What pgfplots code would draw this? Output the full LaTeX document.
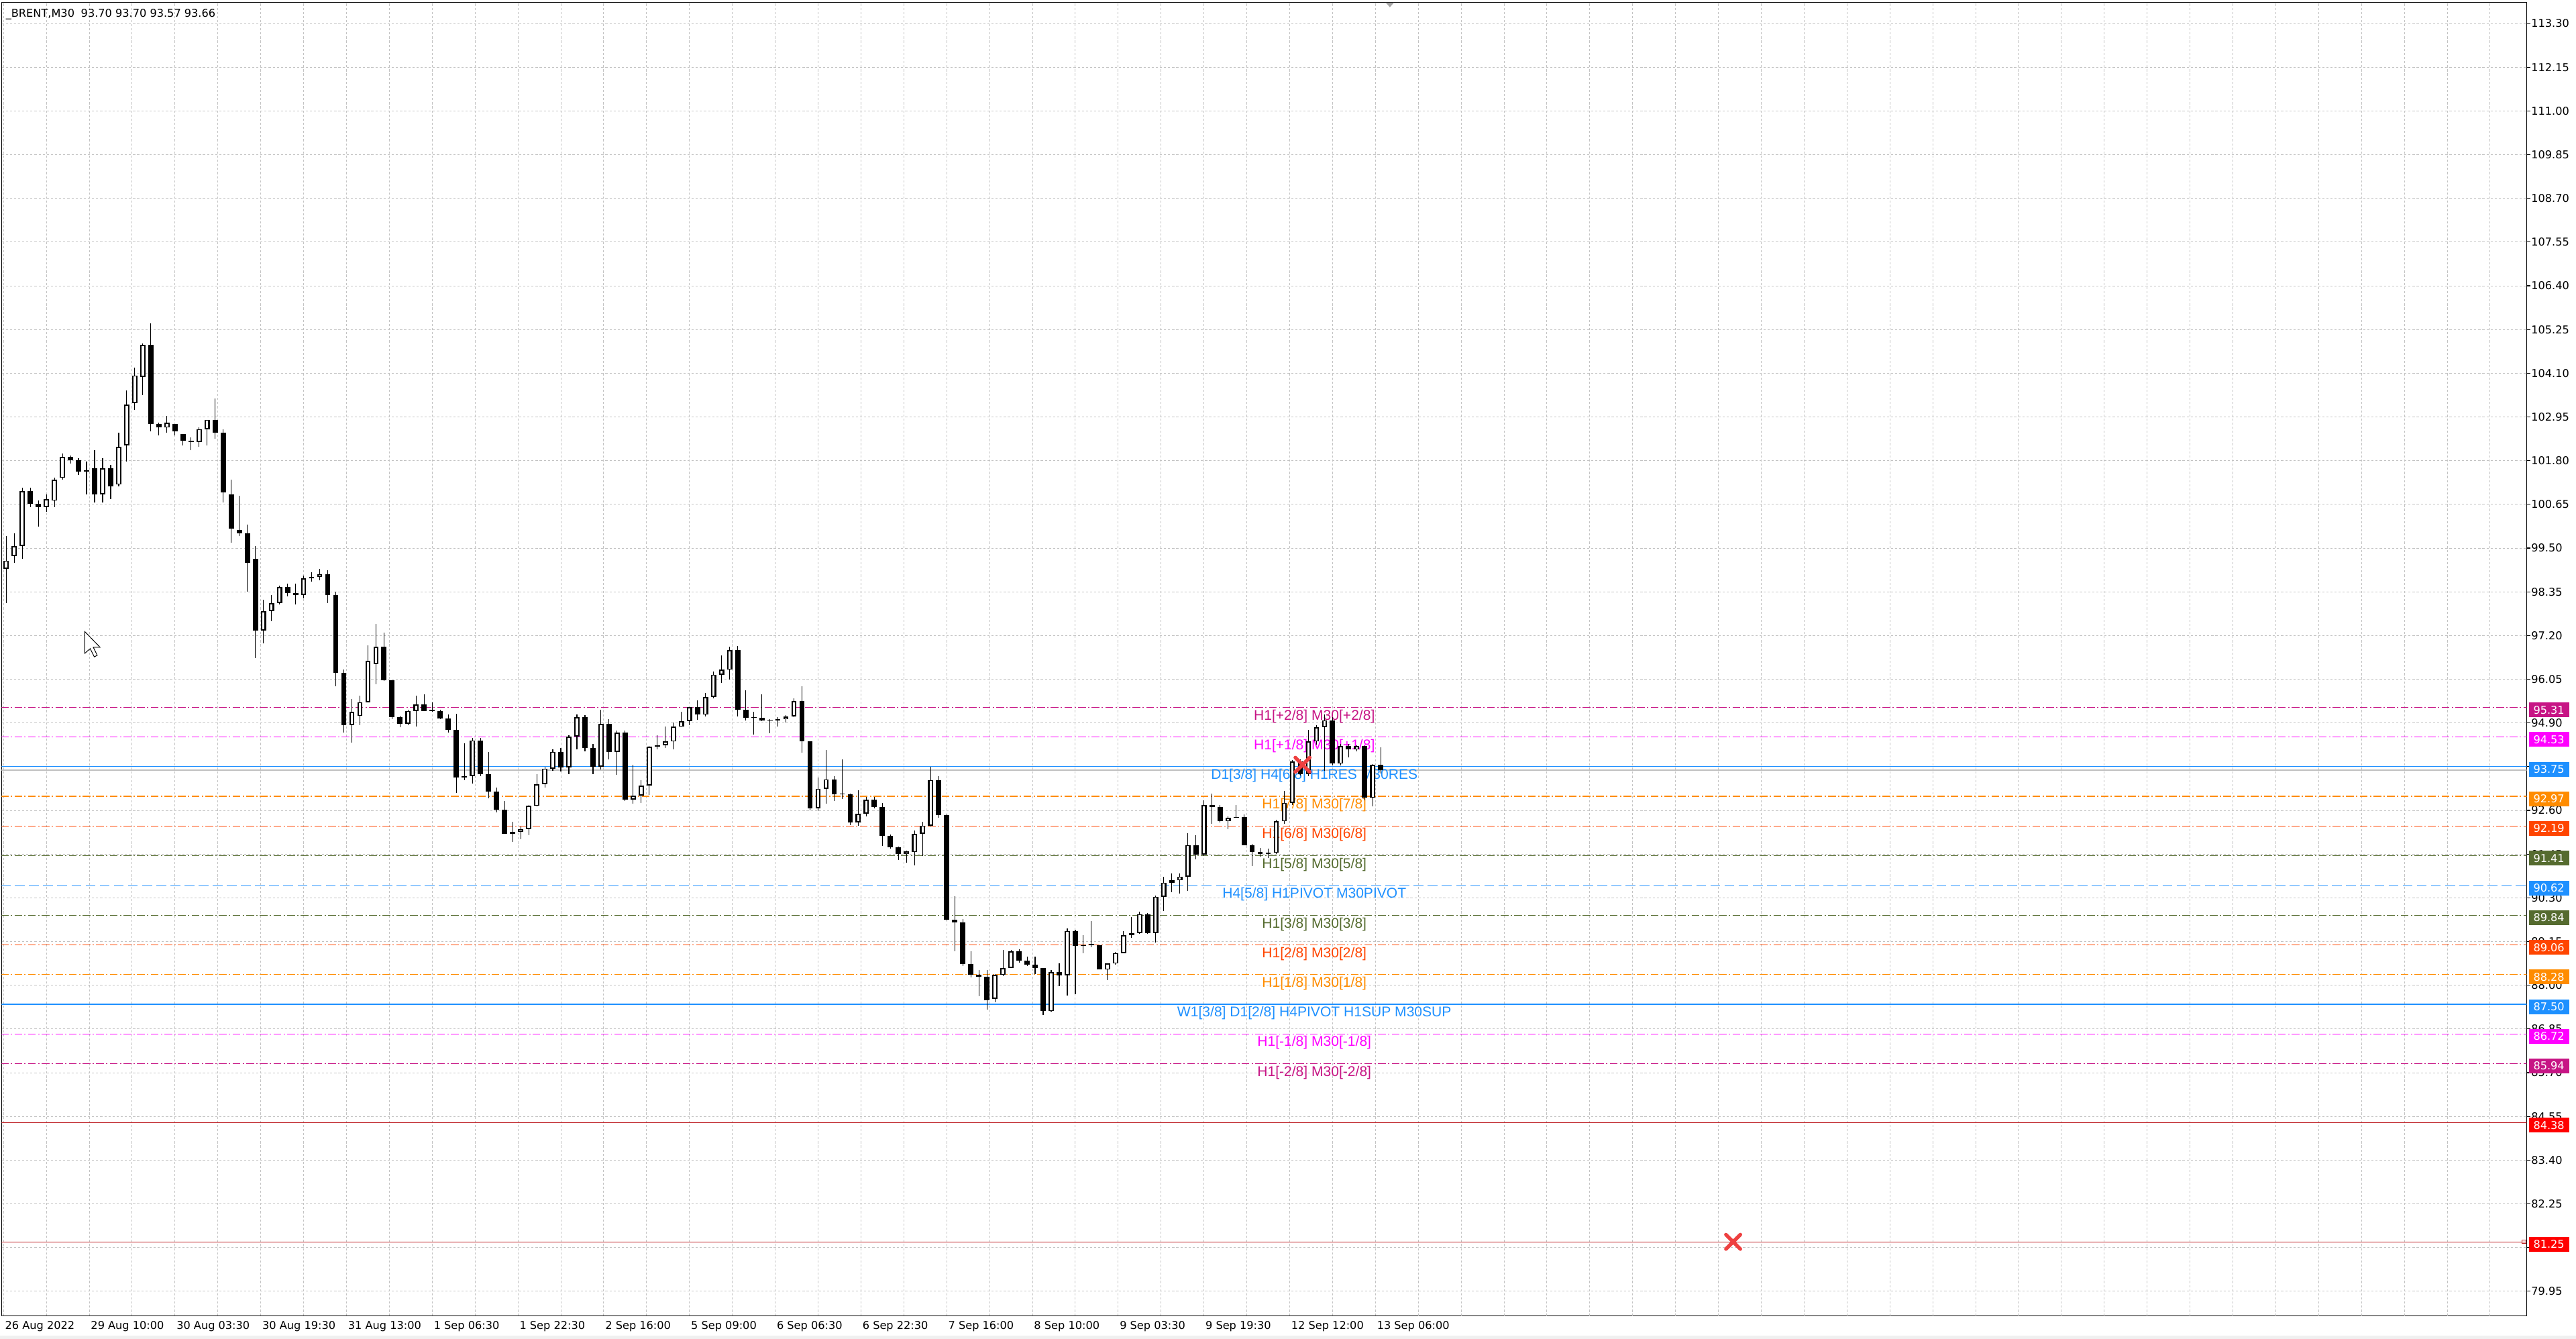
\documentclass[border=0pt]{standalone}
\usepackage{fontspec}
\setmainfont{DejaVu Sans}
\newfontfamily\lvlfamily{Liberation Sans}
\usepackage{pgfplots}
\usepackage{pgfplotstable}
\pgfplotsset{compat=1.18}

\definecolor{vred}{RGB}{199,21,133}
\definecolor{mag}{RGB}{255,0,255}
\definecolor{dblue}{RGB}{30,144,255}
\definecolor{dorange}{RGB}{255,140,0}
\definecolor{ored}{RGB}{255,69,0}
\definecolor{olivec}{RGB}{85,107,47}
\definecolor{lred}{RGB}{190,30,35}
\definecolor{bred}{RGB}{255,0,0}
\definecolor{gridc}{RGB}{195,195,195}
\definecolor{xred}{RGB}{238,64,64}
\definecolor{bidc}{RGB}{192,192,192}

\newcommand\tf{\fontsize{6.6}{7.5}\selectfont}
\newcommand\lf{\lvlfamily\fontsize{8.6}{10}\selectfont}

\pgfplotstableread{
x o h l c
1 98.95 99.81 98.05 99.17
4 99.29 99.89 99.12 99.55
7 99.55 101.09 99.21 101.00
10 101.00 101.09 100.58 100.66
13 100.66 100.75 100.06 100.58
16 100.58 100.92 100.45 100.79
19 100.75 101.35 100.58 101.30
22 101.35 101.99 101.30 101.90
25 101.90 101.94 101.73 101.82
28 101.82 101.86 101.43 101.52
31 101.52 101.77 100.92 101.52
34 101.60 102.07 100.70 100.92
37 100.92 101.86 100.70 101.60
40 101.60 101.69 100.79 101.13
43 101.17 102.54 101.13 102.16
46 102.20 103.65 101.77 103.27
49 103.31 104.25 103.14 104.04
52 104.00 104.89 103.52 104.85
55 104.85 105.41 102.58 102.76
58 102.76 102.80 102.46 102.67
61 102.67 102.97 102.54 102.80
64 102.76 102.76 102.46 102.58
67 102.50 102.50 102.20 102.33
70 102.33 102.41 102.07 102.29
73 102.29 102.67 102.16 102.63
76 102.63 102.88 102.20 102.88
79 102.88 103.44 102.37 102.54
82 102.54 102.63 100.70 100.96
85 100.92 101.30 99.64 100.02
88 99.98 100.88 99.81 99.89
91 99.89 100.11 98.35 99.12
94 99.21 99.55 96.60 97.33
97 97.33 98.14 96.99 97.84
100 97.84 98.27 97.58 98.05
103 98.05 98.52 98.01 98.48
106 98.48 98.57 98.23 98.31
109 98.31 98.57 98.01 98.27
112 98.27 98.78 98.18 98.70
115 98.70 98.87 98.61 98.74
118 98.74 98.95 98.65 98.82
121 98.82 98.91 98.05 98.27
124 98.27 98.35 95.87 96.22
127 96.22 96.30 94.64 94.85
130 94.85 95.53 94.38 95.19
133 95.08 95.62 94.85 95.45
136 95.45 96.94 95.45 96.53
139 96.45 97.51 95.92 96.90
142 96.90 97.27 96.00 96.03
145 96.03 96.03 95.00 95.05
148 95.05 95.08 94.78 94.88
151 94.88 95.25 94.84 95.22
154 95.22 95.62 94.81 95.38
157 95.38 95.66 95.22 95.22
160 95.22 95.45 95.20 95.25
163 95.22 95.25 95.00 95.01
166 95.01 95.12 94.65 94.71
169 94.71 95.15 93.06 93.46
172 93.46 94.37 93.40 93.50
175 93.50 94.51 93.30 94.44
178 94.44 94.50 93.50 93.56
181 93.56 94.14 92.92 93.09
184 93.09 93.20 92.55 92.62
187 92.62 92.85 91.98 91.98
190 91.98 92.30 91.77 92.04
193 92.04 92.18 91.85 92.11
196 92.11 92.75 91.95 92.72
199 92.72 93.56 92.70 93.29
202 93.29 93.75 93.20 93.70
205 93.70 94.20 93.65 94.14
208 94.14 94.24 93.62 93.73
211 93.73 94.58 93.55 94.54
214 94.54 95.12 94.20 95.05
217 95.05 95.10 94.15 94.24
220 94.24 94.35 93.55 93.75
223 93.75 95.25 93.68 94.88
226 94.88 95.00 93.95 94.14
229 94.14 94.70 93.53 94.64
232 94.64 94.70 92.85 92.89
235 92.89 93.80 92.78 92.99
238 92.99 93.40 92.80 93.25
241 93.25 94.30 93.00 94.27
244 94.27 94.58 94.20 94.31
247 94.31 94.80 94.25 94.41
250 94.41 94.92 94.20 94.80
253 94.80 95.20 94.80 94.95
256 94.95 95.32 94.84 95.32
259 95.32 95.50 94.98 95.12
262 95.12 95.68 95.07 95.58
265 95.58 96.25 95.55 96.17
268 96.17 96.68 95.95 96.30
271 96.30 96.90 96.05 96.82
274 96.82 96.93 95.07 95.25
277 95.25 95.76 94.96 95.03
280 95.03 95.20 94.59 95.03
283 95.03 95.65 94.95 94.96
286 94.96 95.00 94.63 94.96
289 94.96 95.05 94.80 95.00
292 95.00 95.10 94.92 95.07
295 95.07 95.55 95.05 95.47
298 95.47 95.87 94.12 94.41
301 94.41 94.41 92.60 92.66
304 92.66 93.46 92.58 93.17
307 93.17 94.19 92.77 93.42
310 93.42 93.50 92.84 93.02
313 93.02 93.94 92.90 93.02
316 93.02 93.05 92.22 92.29
319 92.29 93.13 92.20 92.51
322 92.51 92.95 92.45 92.88
325 92.88 92.95 92.65 92.69
328 92.69 92.80 91.67 91.93
331 91.93 91.96 91.60 91.63
334 91.63 91.65 91.30 91.45
337 91.45 91.55 91.23 91.52
340 91.50 92.07 91.16 91.98
343 91.98 92.30 91.40 92.20
346 92.20 93.75 92.18 93.40
349 93.40 93.50 92.40 92.47
352 92.47 92.50 89.70 89.73
355 89.73 90.35 88.89 89.66
358 89.66 89.75 88.50 88.56
361 88.56 88.90 88.20 88.27
364 88.27 88.40 87.72 88.23
367 88.23 88.40 87.36 87.60
370 87.65 88.30 87.55 88.27
373 88.27 88.93 88.25 88.45
376 88.45 88.93 88.45 88.89
379 88.89 88.95 88.60 88.64
382 88.64 88.75 88.50 88.55
385 88.55 88.75 88.30 88.45
388 88.45 88.45 87.21 87.32
391 87.32 88.40 87.30 88.35
394 88.35 88.57 87.98 88.26
397 88.26 89.50 87.73 89.43
400 89.43 89.46 87.76 89.03
403 89.03 89.31 88.85 89.06
406 89.06 89.68 89.00 89.06
409 89.06 89.06 88.41 88.41
412 88.41 88.57 88.13 88.57
415 88.57 88.87 88.55 88.85
418 88.85 89.43 88.85 89.31
421 89.31 89.80 89.25 89.37
424 89.37 89.93 89.35 89.87
427 89.87 89.90 89.35 89.37
430 89.37 90.36 89.12 90.33
433 90.33 90.86 89.96 90.70
436 90.70 90.95 90.45 90.76
439 90.76 90.95 90.42 90.86
442 90.86 92.00 90.49 91.69
445 91.69 91.94 91.32 91.44
448 91.44 92.87 91.40 92.74
451 92.74 93.05 92.25 92.68
454 92.68 92.75 92.28 92.31
457 92.31 92.45 92.10 92.40
460 92.40 92.75 92.40 92.43
463 92.43 92.50 91.69 91.69
466 91.69 91.72 91.13 91.50
469 91.50 91.62 91.38 91.45
472 91.45 91.60 91.35 91.48
475 91.48 92.35 91.45 92.31
478 92.31 93.11 92.25 92.80
481 92.80 93.92 92.75 93.89
484 93.89 93.95 93.52 93.55
487 93.55 94.72 93.50 94.41
490 94.41 94.85 94.33 94.79
493 94.79 95.13 93.64 94.97
496 94.97 95.05 93.78 93.83
499 93.83 94.35 93.78 94.29
502 94.29 94.35 94.00 94.20
505 94.20 94.32 94.15 94.29
508 94.29 94.30 92.87 92.93
511 92.93 93.82 92.71 93.80
514 93.80 94.26 93.57 93.66
}\candles

\tikzset{
  dd/.style={line width=0.5pt, dash pattern=on 4.7pt off 1.4pt on 0.8pt off 1.4pt},
  lvl/.style={anchor=base, inner sep=0pt, font=\lf, yshift=-7.6pt},
  bx/.style={anchor=west, xshift=1pt, yshift=-1.5pt, inner sep=0pt, minimum width=24.5pt, minimum height=9pt, text=white, font=\tf},
}

\begin{document}
\begin{tikzpicture}
\path[use as bounding box] (0,0) rectangle (1568pt,815pt);
\begin{axis}[
  at={(1pt,14pt)}, anchor=south west,
  scale only axis, width=1537pt, height=799.4pt,
  xmin=-0.69, xmax=941.7, ymin=79.30, ymax=113.85,
  axis line style={line width=0.45pt, black},
  grid=major,
  grid style={gridc, line width=0.4pt, dash pattern=on 1.3pt off 1.2pt},
  tick align=outside,
  major tick length=2pt,
  xtick pos=bottom,
  ytick pos=right,
  yticklabel pos=right,
  xtick={0,16,...,512},
  xticklabels={26 Aug 2022,,29 Aug 10:00,,30 Aug 03:30,,30 Aug 19:30,,31 Aug 13:00,,1 Sep 06:30,,1 Sep 22:30,,2 Sep 16:00,,5 Sep 09:00,,6 Sep 06:30,,6 Sep 22:30,,7 Sep 16:00,,8 Sep 10:00,,9 Sep 03:30,,9 Sep 19:30,,12 Sep 12:00,,13 Sep 06:00},
  extra x ticks={528,544,...,928},
  extra x tick labels={},
  extra x tick style={grid=major, xtick style={draw=none}},
  xtick style={draw=none},
  xticklabel style={font=\tf, anchor=north west, inner sep=0pt, xshift=0.8pt, yshift=-1pt},
  ytick={79.95,81.10,82.25,83.40,84.55,85.70,86.85,88.00,89.15,90.30,91.45,92.60,93.75,94.90,96.05,97.20,98.35,99.50,100.65,101.80,102.95,104.10,105.25,106.40,107.55,108.70,109.85,111.00,112.15,113.30},
  ytick style={line width=0.45pt, black},
  yticklabel style={font=\tf, anchor=west, inner sep=0pt, xshift=0.5pt,
    /pgf/number format/.cd, fixed, fixed zerofill, precision=2, assume math mode=true},
  scaled y ticks=false,
  clip=true,
]
% level lines
\addplot[vred, dd] coordinates {(-1,95.31) (943,95.31)};
\addplot[mag, dd] coordinates {(-1,94.53) (943,94.53)};
\addplot[dblue, line width=0.5pt] coordinates {(-1,93.75) (943,93.75)};
\addplot[dorange, dd] coordinates {(-1,92.97) (943,92.97)};
\addplot[ored, dd] coordinates {(-1,92.19) (943,92.19)};
\addplot[olivec, dd] coordinates {(-1,91.41) (943,91.41)};
\addplot[dblue, line width=0.5pt, dash pattern=on 6pt off 2.6pt] coordinates {(-1,90.62) (943,90.62)};
\addplot[olivec, dd] coordinates {(-1,89.84) (943,89.84)};
\addplot[ored, dd] coordinates {(-1,89.06) (943,89.06)};
\addplot[dorange, dd] coordinates {(-1,88.28) (943,88.28)};
\addplot[dblue, line width=0.5pt] coordinates {(-1,87.50) (943,87.50)};
\addplot[mag, dd] coordinates {(-1,86.72) (943,86.72)};
\addplot[vred, dd] coordinates {(-1,85.94) (943,85.94)};
\addplot[lred, line width=0.5pt] coordinates {(-1,84.38) (943,84.38)};
\addplot[lred, line width=0.5pt] coordinates {(-1,81.25) (943,81.25)};
% bid line
\addplot[bidc, line width=0.45pt] coordinates {(-1,93.66) (943,93.66)};

% level labels
\node[lvl, text=vred] at (axis cs:489.2,95.31) {H1[+2/8] M30[+2/8]};
\node[lvl, text=mag] at (axis cs:489.2,94.53) {H1[+1/8] M30[+1/8]};
\node[lvl, text=dblue] at (axis cs:489.2,93.75) {D1[3/8] H4[6/8] H1RES M30RES};
\node[lvl, text=dorange] at (axis cs:489.2,92.97) {H1[7/8] M30[7/8]};
\node[lvl, text=ored] at (axis cs:489.2,92.19) {H1[6/8] M30[6/8]};
\node[lvl, text=olivec] at (axis cs:489.2,91.41) {H1[5/8] M30[5/8]};
\node[lvl, text=dblue] at (axis cs:489.2,90.62) {H4[5/8] H1PIVOT M30PIVOT};
\node[lvl, text=olivec] at (axis cs:489.2,89.84) {H1[3/8] M30[3/8]};
\node[lvl, text=ored] at (axis cs:489.2,89.06) {H1[2/8] M30[2/8]};
\node[lvl, text=dorange] at (axis cs:489.2,88.28) {H1[1/8] M30[1/8]};
\node[lvl, text=dblue] at (axis cs:489.2,87.50) {W1[3/8] D1[2/8] H4PIVOT H1SUP M30SUP};
\node[lvl, text=mag] at (axis cs:489.2,86.72) {H1[-1/8] M30[-1/8]};
\node[lvl, text=vred] at (axis cs:489.2,85.94) {H1[-2/8] M30[-2/8]};

% candles: wicks
\addplot[draw=none, mark=none,
  error bars/.cd, y dir=plus, y explicit, error mark=none,
  error bar style={draw=black, line width=0.45pt}]
  table[x=x, y=l, y error plus expr={\thisrow{h}-\thisrow{l}}] {\candles};
% bodies
\addplot[draw=none, mark=none,
  error bars/.cd, y dir=plus, y explicit, error mark=none,
  error bar style={draw=black, line width=3.2pt}]
  table[x=x, y expr={min(\thisrow{o},\thisrow{c})}, y error plus expr={max(abs(\thisrow{c}-\thisrow{o}),0.025)}] {\candles};
% hollow (bullish) bodies
\addplot[draw=none, mark=none,
  error bars/.cd, y dir=plus, y explicit, error mark=none,
  error bar style={draw=white, line width=1.4pt}]
  table[x=x, y expr={\thisrow{o}+0.03}, y error plus expr={max(\thisrow{c}-\thisrow{o}-0.06,0)}] {\candles};

% red crosses
\addplot[only marks, mark=x, mark size=6.2pt, mark options={xred, line width=2.2pt, line cap=round}]
  coordinates {(484.8,93.80) (645.5,81.25)};
% small anchor square
\addplot[only marks, mark=square, mark size=1.1pt, mark options={lred, line width=0.4pt, fill=white}]
  coordinates {(940.6,81.25)};

% coordinates for price boxes
\coordinate (b1) at (axis cs:941.7,95.31);
\coordinate (b2) at (axis cs:941.7,94.53);
\coordinate (b3) at (axis cs:941.7,93.75);
\coordinate (b4) at (axis cs:941.7,92.97);
\coordinate (b5) at (axis cs:941.7,92.19);
\coordinate (b6) at (axis cs:941.7,91.41);
\coordinate (b7) at (axis cs:941.7,90.62);
\coordinate (b8) at (axis cs:941.7,89.84);
\coordinate (b9) at (axis cs:941.7,89.06);
\coordinate (b10) at (axis cs:941.7,88.28);
\coordinate (b11) at (axis cs:941.7,87.50);
\coordinate (b12) at (axis cs:941.7,86.72);
\coordinate (b13) at (axis cs:941.7,85.94);
\coordinate (b14) at (axis cs:941.7,84.38);
\coordinate (b15) at (axis cs:941.7,81.25);
\end{axis}

% price boxes on the right scale
\node[bx, fill=vred] at (b1) {95.31};
\node[bx, fill=mag] at (b2) {94.53};
\node[bx, fill=dblue] at (b3) {93.75};
\node[bx, fill=dorange] at (b4) {92.97};
\node[bx, fill=ored] at (b5) {92.19};
\node[bx, fill=olivec] at (b6) {91.41};
\node[bx, fill=dblue] at (b7) {90.62};
\node[bx, fill=olivec] at (b8) {89.84};
\node[bx, fill=ored] at (b9) {89.06};
\node[bx, fill=dorange] at (b10) {88.28};
\node[bx, fill=dblue] at (b11) {87.50};
\node[bx, fill=mag] at (b12) {86.72};
\node[bx, fill=vred] at (b13) {85.94};
\node[bx, fill=bred] at (b14) {84.38};
\node[bx, fill=bred] at (b15) {81.25};

% header
\node[anchor=base west, inner sep=0pt, font=\tf] at (3.4pt,804.4pt) {\_BRENT,M30\hspace{0.6em}93.70 93.70 93.57 93.66};
% shift marker
\fill[black!35] (843.5pt,813.4pt) -- (848.5pt,813.4pt) -- (846pt,810.6pt) -- cycle;
% mouse cursor
\draw[black, fill=white, line width=0.4pt, line join=miter]
  (51.6pt,430.6pt) -- (51.6pt,417.3pt) -- (54.9pt,420.2pt) -- (57.4pt,415.2pt)
  -- (59.2pt,416.1pt) -- (56.8pt,421.0pt) -- (60.9pt,421.0pt) -- cycle;
% bottom window strip
\fill[black!6] (0,0) rectangle (1568pt,2pt);
\end{tikzpicture}
\end{document}
